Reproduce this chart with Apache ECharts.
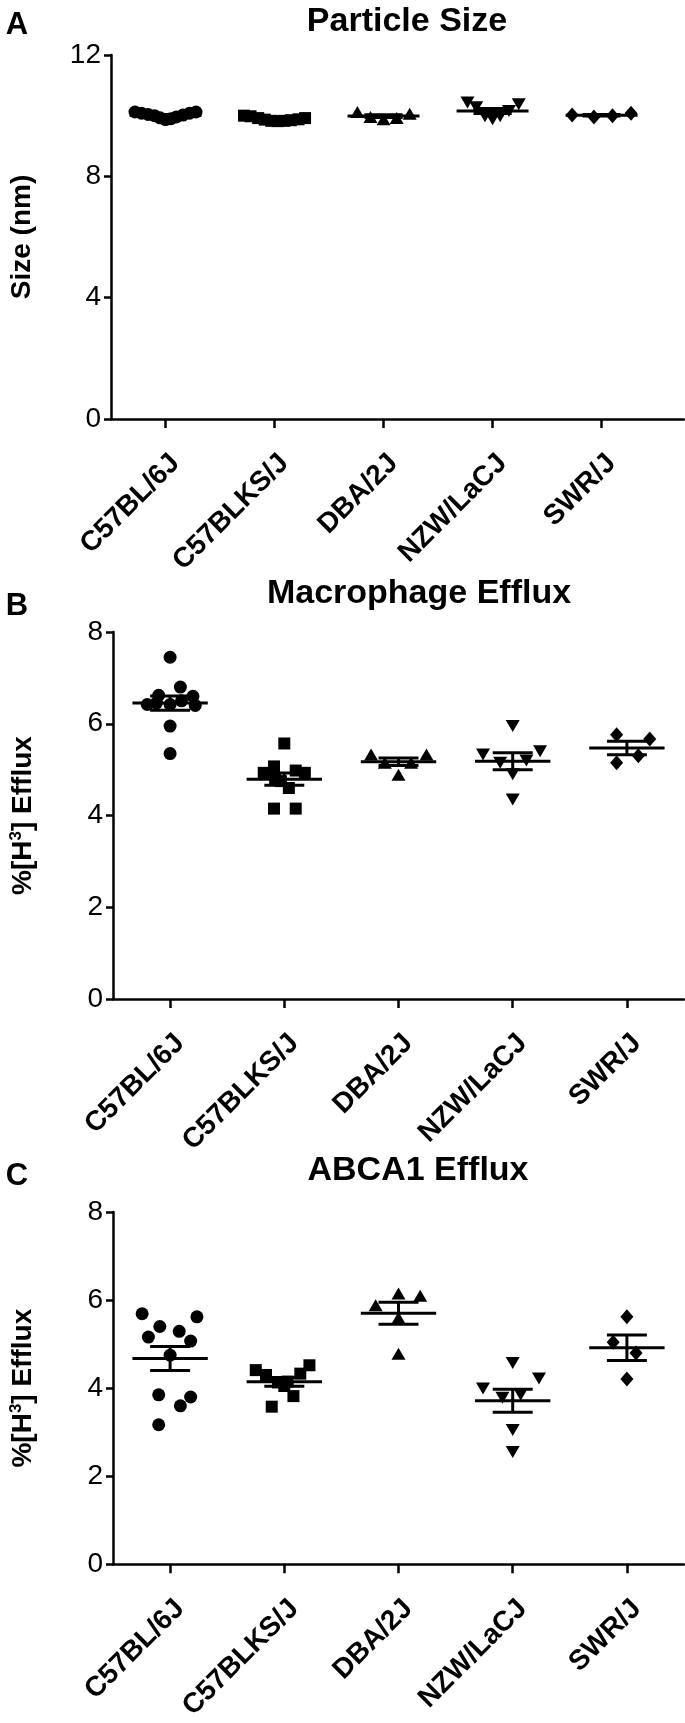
<!DOCTYPE html>
<html><head><meta charset="utf-8">
<script src="https://cdn.jsdelivr.net/npm/echarts@6/dist/echarts.min.js"></script>
<style>html,body{margin:0;padding:0;background:#fff}#c{width:685px;height:1723px}</style>
</head><body><div id="c"></div><script>
// ---------- data ----------
const categories = ['C57BL/6J', 'C57BLKS/J', 'DBA/2J', 'NZW/LaCJ', 'SWR/J'];
const panelTitles = ['Particle Size', 'Macrophage Efflux', 'ABCA1 Efflux'];
const panelLetters = ['A', 'B', 'C'];
const sizeTicks = [0, 4, 8, 12];
const effluxTicks = [0, 2, 4, 6, 8];

// Particle size (nm)
const sizeValues = [
  [10.12, 10.08, 10.04, 10.0, 9.93, 9.87, 9.9, 9.96, 10.02, 10.08, 10.12],
  [10.0, 9.98, 9.92, 9.87, 9.83, 9.82, 9.83, 9.85, 9.88, 9.92],
  [10.12, 9.96, 9.88, 9.92, 10.06],
  [10.43, 10.28, 9.98, 9.88, 9.98, 10.15, 10.38],
  [10.02, 9.96, 10.0, 10.08]
];
const sizeOffsets = [
  [-0.28, -0.22, -0.16, -0.1, -0.05, 0, 0.05, 0.1, 0.16, 0.22, 0.28],
  [-0.28, -0.22, -0.15, -0.09, -0.03, 0.03, 0.09, 0.15, 0.22, 0.28],
  [-0.24, -0.12, 0, 0.12, 0.24],
  [-0.23, -0.15, -0.07, 0, 0.07, 0.15, 0.24],
  [-0.27, -0.07, 0.1, 0.27]
];

// Macrophage efflux (%)
const macValues = [
  [7.45, 6.8, 6.62, 6.6, 6.5, 6.45, 6.42, 6.42, 6.4, 5.95, 5.35],
  [5.57, 5.07, 4.93, 4.98, 4.93, 4.78, 4.6, 4.75, 4.15, 4.15],
  [5.33, 5.15, 4.89, 5.15, 5.33],
  [5.95, 5.33, 5.4, 5.15, 5.2, 4.9, 4.35],
  [5.76, 5.67, 5.3, 5.15]
];
const macOffsets = [
  [0, 0.09, -0.1, 0.2, 0.1, -0.12, 0, -0.2, 0.22, 0, 0],
  [0, -0.09, -0.18, 0.1, 0.18, -0.08, 0.04, -0.03, -0.09, 0.1],
  [-0.24, -0.12, 0, 0.11, 0.245],
  [0, -0.26, 0.24, -0.11, 0.12, 0, 0],
  [-0.09, 0.2, 0.1, -0.09]
];

// ABCA1 efflux (%)
const abcaValues = [
  [5.69, 5.62, 5.4, 5.29, 5.16, 5.07, 4.75, 3.85, 3.8, 3.6, 3.17],
  [4.41, 4.3, 4.13, 4.15, 4.33, 4.52, 4.05, 3.82, 3.58],
  [6.15, 6.1, 5.88, 5.6, 4.78],
  [4.57, 4.22, 3.99, 3.78, 3.85, 3.05, 2.55],
  [5.62, 5.04, 4.8, 4.21]
];
const abcaOffsets = [
  [-0.245, 0.235, -0.09, 0.08, -0.19, 0.18, 0, -0.1, 0.18, 0.09, -0.1],
  [-0.25, -0.16, -0.055, 0.03, 0.14, 0.22, 0, 0.08, -0.11],
  [0, 0.19, -0.2, 0, 0],
  [0, 0.23, -0.26, -0.09, 0.07, 0, 0],
  [0, -0.12, 0.08, 0]
];

// ---------- helpers ----------
const FONT = 'Liberation Sans, Arial, Helvetica, sans-serif';
const symbols = [
  {symbol: 'circle', size: 13, rotate: 0},
  {symbol: 'rect', size: 12, rotate: 0},
  {symbol: 'triangle', size: [14, 12], rotate: 0},
  {symbol: 'triangle', size: [14, 12], rotate: 180},
  {symbol: 'diamond', size: [13, 15], rotate: 0}
];
function meanSem(a) {
  const n = a.length;
  const m = a.reduce((s, v) => s + v, 0) / n;
  const sd = Math.sqrt(a.reduce((s, v) => s + (v - m) * (v - m), 0) / (n - 1));
  return [m, sd / Math.sqrt(n)];
}

const panels = [
  {values: sizeValues, offsets: sizeOffsets, ticks: sizeTicks, grid: {left: 110, top: 55, width: 574, height: 364}, xmax: 4.756, yname: 'Size (nm)'},
  {values: macValues, offsets: macOffsets, ticks: effluxTicks, grid: {left: 110, top: 632, width: 574, height: 367}, xmax: 4.5, yname: '%[H{sup|3}] Efflux'},
  {values: abcaValues, offsets: abcaOffsets, ticks: effluxTicks, grid: {left: 110, top: 1212, width: 574, height: 363}, xmax: 4.5, yname: '%[H{sup|3}] Efflux'}
];

const grid = [], xAxis = [], yAxis = [], series = [];
panels.forEach((p, pi) => {
  grid.push(p.grid);
  const tickIdx = categories.map((c, i) => i);
  xAxis.push({
    type: 'value', gridIndex: pi, min: -0.5, max: p.xmax,
    splitLine: {show: false},
    axisLine: {onZero: false, lineStyle: {color: '#000', width: 2.5}},
    axisTick: {customValues: tickIdx, length: 9, lineStyle: {color: '#000', width: 2.5}},
    axisLabel: {
      customValues: tickIdx, rotate: 45, margin: 30,
      align: 'right', verticalAlign: 'top',
      color: '#000', fontFamily: FONT, fontWeight: 'bold', fontSize: 28,
      formatter: v => categories[Math.round(v)] || ''
    }
  });
  const tmax = p.ticks[p.ticks.length - 1];
  yAxis.push({
    type: 'value', gridIndex: pi, min: p.ticks[0], max: tmax,
    interval: p.ticks[1] - p.ticks[0],
    splitLine: {show: false},
    axisLine: {show: true, onZero: false, lineStyle: {color: '#000', width: 2.5}},
    axisTick: {show: true, length: 7, lineStyle: {color: '#000', width: 2.5}},
    axisLabel: {color: '#000', fontFamily: FONT, fontSize: 28, margin: 10},
    name: p.yname, nameLocation: 'middle', nameRotate: 90, nameGap: 75,
    nameTextStyle: {
      color: '#000', fontFamily: FONT, fontWeight: 'bold', fontSize: 28,
      rich: {sup: {fontSize: 17, fontWeight: 'bold', fontFamily: FONT, color: '#000', verticalAlign: 'top', lineHeight: 30}}
    }
  });
  p.values.forEach((vals, gi) => {
    const s = symbols[gi];
    series.push({
      type: 'scatter', xAxisIndex: pi, yAxisIndex: pi,
      symbol: s.symbol, symbolSize: s.size, symbolRotate: s.rotate,
      itemStyle: {color: '#000', opacity: 1},
      data: vals.map((v, k) => [gi + p.offsets[gi][k], v]),
      silent: true, z: 2
    });
  });
  series.push({
    type: 'custom', xAxisIndex: pi, yAxisIndex: pi, z: 3, silent: true,
    data: p.values.map((vals, gi) => { const ms = meanSem(vals); return [gi, ms[0], ms[1]]; }),
    renderItem: (params, api) => {
      const x = api.value(0), m = api.value(1), s = api.value(2);
      const pm = api.coord([x, m]), pt = api.coord([x, m + s]), pb = api.coord([x, m - s]);
      const hw = api.size([0.33, 0])[0], sw = api.size([0.175, 0])[0];
      const st = {stroke: '#000', lineWidth: 3, fill: null};
      return {type: 'group', children: [
        {type: 'line', shape: {x1: pm[0] - hw, y1: pm[1], x2: pm[0] + hw, y2: pm[1]}, style: st},
        {type: 'line', shape: {x1: pt[0] - sw, y1: pt[1], x2: pt[0] + sw, y2: pt[1]}, style: st},
        {type: 'line', shape: {x1: pb[0] - sw, y1: pb[1], x2: pb[0] + sw, y2: pb[1]}, style: st},
        {type: 'line', shape: {x1: pt[0], y1: pt[1], x2: pb[0], y2: pb[1]}, style: st}
      ]};
    }
  });
});

const titleY = [22, 594, 1171];
const titleX = [407, 419, 418];
const letterY = [25, 606, 1176];
const graphic = [];
panelTitles.forEach((t, i) => {
  graphic.push({type: 'text', x: titleX[i], y: titleY[i], silent: true,
    style: {text: t, fill: '#000', font: 'bold 34px ' + FONT, textAlign: 'center', textVerticalAlign: 'middle'}});
  graphic.push({type: 'text', x: 17, y: letterY[i], silent: true,
    style: {text: panelLetters[i], fill: '#000', font: 'bold 31px ' + FONT, textAlign: 'center', textVerticalAlign: 'middle'}});
});

const chart = echarts.init(document.getElementById('c'), null, {renderer: 'canvas'});
chart.setOption({backgroundColor: '#fff', animation: false, grid, xAxis, yAxis, series, graphic});
</script></body></html>
